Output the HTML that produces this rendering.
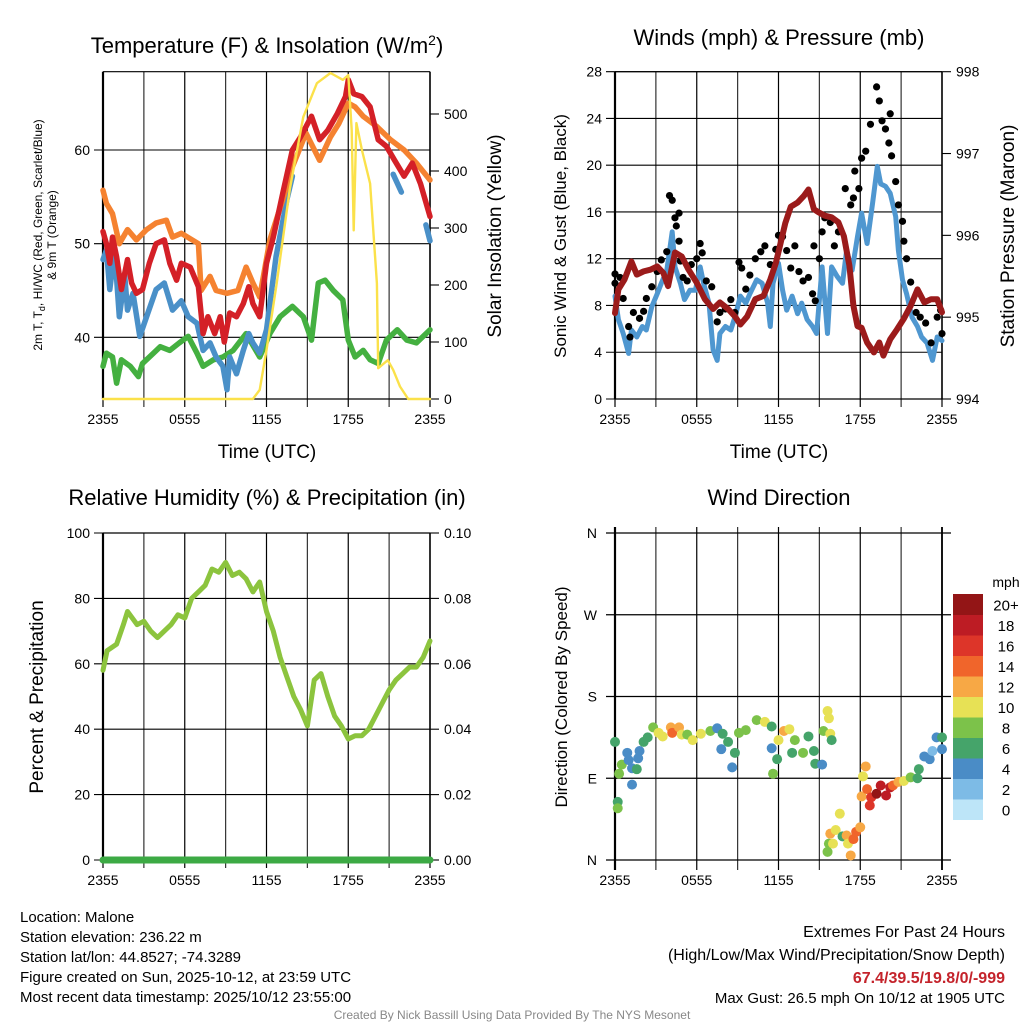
<!DOCTYPE html>
<html><head><meta charset="utf-8">
<style>
html,body{margin:0;padding:0;background:#fff;}
svg{display:block;font-family:"Liberation Sans",Arial,sans-serif;}
</style></head>
<body>
<svg id="c" width="1024" height="1024" viewBox="0 0 1024 1024" xmlns="http://www.w3.org/2000/svg"></svg>
<script>
// ---------- DATA ----------
const xTickLabels = ["2355","0555","1155","1755","2355"];
// Temperature panel
const redH = [0,.25,.5,.7,1,1.35,1.8,2.1,2.45,2.9,3.4,3.9,4.5,4.9,5.4,5.75,6.4,7,7.35,7.7,8.2,8.6,8.9,9.3,9.8,10.3,10.7,11,11.5,12,12.5,13.2,13.9,14.5,15.3,15.9,16.5,17.2,17.8,18,18.4,19,19.6,20.2,20.8,21.4,22.1,22.7,23.3,24];
const redT = [51.3,50,47.9,50.7,48.6,45.1,48.3,45.8,44.7,45.1,47.9,50,50.4,47.9,46.1,47.9,47.5,45.4,40.4,42.2,40.4,42.2,39.5,42.6,42.2,43.6,45.4,43.6,42.2,47.9,50.7,55.4,60,61.4,63.6,61.1,62.1,63.9,65.7,67.5,66,65.7,64.6,61.1,60.4,58.9,57.2,58.6,56.4,52.9];
const orangeH = [0,.25,.7,1.2,1.8,2.45,3.2,3.9,4.65,5.1,5.75,7,7.2,7.85,8.3,9.1,9.9,10.5,11,11.5,12.25,13.2,13.9,14.9,15.9,16.7,17.3,18,18.5,19.1,20.1,21.1,22.1,23,24];
const orangeT = [55.7,54.3,53.2,50,51.5,50.4,51.5,52.2,52.5,50.7,51.1,50,45,46.5,45,44.7,45,47.5,45.8,44.3,50.4,54.7,58.2,61.8,58.9,61.4,62.8,65,64.6,63.6,62.5,61.1,60,58.6,56.8];
const blueH = [0,.25,.5,.85,1.2,1.6,1.8,2.2,2.7,3.2,3.9,4.5,5.1,5.75,6.25,6.9,7.35,7.85,8.3,8.8,9.1,9.3,9.8,10.3,10.7,11,11.5,12,12.7,13.5,13.9,null,21.3,21.9,null,23.7,24];
const blueT = [48.3,49.3,45.1,49.3,42.2,46.5,42.9,44.7,40.1,42.2,45.1,45.8,42.9,43.9,42.2,41.5,38.6,39.4,37.9,36.9,34.4,37.9,36.1,38.6,40.4,39.4,38.3,40.8,48.6,54.7,57.2,null,57.4,55.5,null,52,50.3];
const greenH = [0,.25,.7,1,1.35,2,2.6,2.9,3.7,4.2,4.9,5.6,6.25,6.9,7.35,8.1,8.8,9.55,10.5,11.5,12.25,13,13.9,14.7,15.3,15.8,16.3,16.9,17.6,18,18.5,19.1,19.6,20.2,20.8,21.6,22.3,23,24];
const greenT = [36.9,38.3,37.9,35.1,37.6,36.9,35.8,37.2,38.3,39,38.6,39.4,40.1,38.3,36.9,37.6,37.9,38.6,40.4,37.9,40.4,42.2,43.3,42.2,39.7,45.8,46.1,45,44,39.7,37.9,38.6,37.6,37.2,39.7,40.8,39.7,39.4,40.8];
const solarH = [0,11,11.5,12,12.75,13.7,14.7,15.7,16.7,17.6,18,18.25,18.4,18.6,19,19.6,20.1,20.2,20.9,21.3,21.8,22.4,24];
const solarW = [0,0,16,86,203,367,495,554,572,560,568,472,296,484,437,378,203,54,68,51,22,0,0];
const tempTicks = [40,50,60];
const solarTicks = [0,100,200,300,400,500];
// Winds panel
const windH = [0,.25,.6,1,1.2,1.6,2,2.3,2.7,3.1,3.4,3.8,4.2,4.4,4.8,5.1,5.5,5.9,6.25,6.5,6.9,7.2,7.5,7.7,8.1,8.5,8.8,9.2,9.6,9.9,10.4,10.8,11.2,11.4,11.6,12,12.3,12.6,13,13.4,13.7,14.1,14.5,14.8,15.2,15.6,15.9,16.3,16.7,17,17.4,17.8,18.1,18.5,18.9,19.25,19.5,19.85,20.2,20.6,20.8,21.1,21.4,21.8,22.2,22.5,22.9,23.3,23.65,24];
const windV = [8.8,6.8,5.6,3.9,5.9,5.3,6.2,5.9,7.9,9,9.9,11,14.3,11.3,9.9,8.5,9.3,9.3,11.3,9.9,8.2,4.2,3.3,5.6,6.2,5.9,7,8.8,8.2,9,10.2,9.9,8.2,6.2,9.9,11.6,9.3,7.6,8.8,7.3,8.2,6.8,6.2,5.6,11.3,5.6,11.3,10.5,9.9,12.7,11,13.9,15.9,13.3,16.7,19.9,18.4,18.2,17.6,15.6,12.7,10.2,9,7,6.2,5.3,4.8,3.3,5.3,5];
const gustH = [0,0,.37,.6,1,1.1,1.35,1.8,2.1,2.3,2.7,3.1,3.4,3.8,4,4.2,4.4,4.7,4.5,4.7,4.8,5,5.3,5.6,6,6.25,6.4,6.7,7.1,7.5,7.7,8.1,8.5,8.8,9.1,9.3,9.6,9.9,10.3,10.7,11,11.4,11.8,12,12.3,12.6,12.9,13.2,13.5,13.8,14.2,14.5,14.6,14.7,15,15.2,15.4,15.8,16.1,16.4,16.9,17.3,17.5,17.6,17.9,18.1,18.4,18.75,19.2,19.4,19.6,19.85,20.2,20.1,20.3,20.6,20.8,21.1,21.2,21.4,21.7,22.1,22.4,22.8,23.2,23.65,23.9,24];
const gustV = [9.9,10.7,10.4,8.6,6.2,5.3,7.4,6.9,7.5,8.6,9.6,10.9,11.9,12.6,17.4,17,15.5,15.9,14.8,13.5,11.8,10.4,10.1,11.5,12,13.3,12.5,10.1,9.6,6.6,7.4,7.7,8.5,7.4,11.7,11.2,9.4,10.6,12,12.6,13.1,11.5,12.8,14,13.9,12.7,11.2,13.1,10.9,10.1,10.4,9,13.1,8.4,12,14.3,15.5,15.1,13.1,14.3,18,16.6,17.2,19.5,18,20.6,21.2,23.5,26.7,25.5,23.8,23.1,24.4,21.9,20.8,18.6,16.6,15.2,13.5,12,10,7.4,7,6.5,4.8,7,7.6,5.6];
const presH = [0,.25,.7,1.2,1.6,2.1,2.6,3.1,3.55,3.9,4.4,4.9,5.4,6,6.6,7.2,7.7,8.3,8.8,9.2,9.7,10.3,10.9,11.4,11.8,12.1,12.5,12.9,13.4,13.85,14.2,14.6,14.95,15.4,15.9,16.4,16.8,17.2,17.5,17.8,18.1,18.5,19,19.4,19.7,20.2,20.7,21.2,21.7,22.2,22.7,23.2,23.65,24];
const presV = [995.05,995.34,995.46,995.68,995.52,995.56,995.58,995.62,995.54,995.38,995.79,995.74,995.58,995.42,995.22,995.1,995.18,995.1,995.01,994.91,995.01,995.22,995.26,995.46,995.66,995.87,996.15,996.35,996.4,996.48,996.56,996.32,996.28,996.24,996.22,996.16,995.99,995.63,995.14,994.89,994.87,994.69,994.57,994.69,994.53,994.73,994.85,994.98,995.14,995.34,995.18,995.22,995.22,995.06];
const windTicks = [0,4,8,12,16,20,24,28];
const presTicks = [994,995,996,997,998];
// RH panel
const rhH = [0,.3,1,1.5,1.8,2.5,3,3.5,4,4.5,5,5.5,6,6.5,7,7.5,8,8.5,9,9.5,10,10.5,11,11.5,12,12.5,13,13.5,14,14.5,15,15.5,16,16.5,17,17.5,18,18.5,19,19.5,20,20.5,21,21.5,22,22.5,23,23.5,24];
const rhV = [58,64,66,72,76,72,73,70,68,70,72,75,74,80,82,84,89,88,91,87,88,86,82,85,76,70,62,56,50,46,41,55,57,50,44,41,37,38,38,40,44,48,52,55,57,59,59,62,67];
const precipH = [0,24];
const precipV = [0,0];
const rhTicks = [0,20,40,60,80,100];
const precipTicks = ["0.00","0.02","0.04","0.06","0.08","0.10"];
// Wind direction panel
const dirH = [0,.2,.2,.3,.5,.9,1,1.25,1.25,1.6,1.7,1.8,2.1,2.4,2.8,3.2,3.5,4.1,4.2,4.7,4.9,5.3,5.7,6.3,7,7.5,7.9,7.8,8.3,8.6,8.8,9.1,9.6,10.4,11,11.5,11.5,11.6,11.9,12,12.4,12.8,13,13.2,13.8,14.2,14.6,14.7,15.2,15.3,15.6,15.7,15.8,15.9,15.6,15.7,15.8,16,16.2,16.5,16.7,17,17.1,17.3,17.5,17.7,18,18.2,18.4,18.1,18.5,18.7,18.8,19.2,19.5,19.9,20.2,20.4,20.8,21.2,21.7,22.2,22.3,22.7,23.1,23.3,23.6,24,24];
const dirV = [130,64,57,95,105,118,110,101,83,100,112,120,130,135,146,140,136,146,140,146,138,138,132,139,142,145,139,122,130,102,118,140,143,154,152,147,123,95,111,132,142,144,118,132,118,136,120,106,105,142,164,156,139,132,9,18,29,18,33,51,26,27,18,5,23,31,36,92,103,70,78,60,69,73,82,71,80,82,86,87,91,90,100,114,111,120,135,135,122];
const dirS = [7,7,9,9,9,5,5,5,5,7,5,5,7,7,9,11,11,13,15,13,11,9,11,11,9,5,7,5,7,5,7,9,9,9,11,7,5,9,7,11,13,11,7,9,9,7,7,7,5,9,11,11,11,7,9,9,13,11,11,11,7,13,11,13,15,15,13,11,13,13,15,17,17,21,19,19,19,15,13,11,9,7,7,5,5,3,5,7,5];
const dirLabels = ["N","E","S","W","N"];
const cbLabels = ["0","2","4","6","8","10","12","14","16","18","20+"];
const cbColors = ["#bde5f8","#7dbbe6","#4a8cc6","#45a46a","#7cc24a","#e7e155","#f7a845","#f0652b","#dd3529","#bd1c24","#931516"];

// ---------- DRAW ----------
const svg = document.getElementById('c');
const NS = "http://www.w3.org/2000/svg";
function el(tag, attrs, parent){const e=document.createElementNS(NS,tag);for(const k in attrs)e.setAttribute(k,attrs[k]);(parent||svg).appendChild(e);return e;}
function txt(s,x,y,size,anchor,parent,extra){const t=el('text',Object.assign({x:x,y:y,'font-size':size,'text-anchor':anchor||'middle',fill:'#000'},extra||{}),parent);t.textContent=s;return t;}

function lin(d0,d1,r0,r1){return v=>r0+(v-d0)/(d1-d0)*(r1-r0);}

function frame(g,x0,x1,y0,y1,sx,leftTicks,ly,leftLab,rightTicks,ry,rightLab,boxTop){
  for(let h=0;h<=24;h+=3){
    const l=el('line',{x1:sx(h),x2:sx(h),y1:y0,y2:y1+8,stroke:(h%6==0)?'#000':'#333','stroke-width':1.2},g);
    
    
  }
  xTickLabels.forEach((s,i)=>{const t=txt(s,sx(i*6),y1+25,14,'middle',g);});
  leftTicks.forEach((v,i)=>{const y=ly(v);
    const l=el('line',{x1:x0-9,x2:x1,y1:y,y2:y,stroke:'#000','stroke-width':1.1},g);
    
    
    const t=txt(leftLab?leftLab[i]:String(v),x0-13,y+5,14,'end',g);
    
    
  });
  rightTicks.forEach((v,i)=>{const y=ry(v);
    el('line',{x1:x1,x2:x1+9,y1:y,y2:y,stroke:'#000','stroke-width':1.1},g);
    const t=txt(rightLab?rightLab[i]:String(v),x1+14,y+5,14,'start',g);
    
    
  });
  el('line',{x1:x0,x2:x1,y1:y1,y2:y1,stroke:'#000','stroke-width':1.2},g);
  if(boxTop) el('line',{x1:x0,x2:x1,y1:y0,y2:y0,stroke:'#000','stroke-width':1.2},g);
  el('line',{x1:x0,x2:x0,y1:y0,y2:y1,stroke:'#000','stroke-width':2.2},g);
  el('line',{x1:x1,x2:x1,y1:y0,y2:y1,stroke:'#000','stroke-width':1.5},g);
}
function path(g,H,V,sx,sy,color,w,name){
  let d='',pen=false;
  for(let i=0;i<H.length;i++){
    if(H[i]===null||V[i]===null){pen=false;continue;}
    d+=(pen?'L':'M')+sx(H[i]).toFixed(1)+','+sy(V[i]).toFixed(1);pen=true;
  }
  const p=el('path',{d:d,fill:'none',stroke:color,'stroke-width':w,'stroke-linejoin':'round','stroke-linecap':'round'},g);
  
  
  return p;
}
function rotLabel(g,s,x,y,size,angle){const t=el('text',{x:0,y:0,'font-size':size,'text-anchor':'middle',fill:'#000',transform:`translate(${x},${y}) rotate(${angle})`},g);t.textContent=s;return t;}

// Panel 1: temperature
{
  const g=el('g',{});
  
  
  const x0=103,x1=430,y0=71.7,y1=399;
  const sx=lin(0,24,x0,x1), sy=lin(40,60,337.3,150), sw=lin(0,500,399,114);
  frame(g,x0,x1,y0,y1,sx,tempTicks,sy,null,solarTicks,sw,null,true);
  path(g,greenH,greenT,sx,sy,'#44b040',5.5,'dewpoint-line');
  path(g,blueH,blueT,sx,sy,'#4a90c8',5.5,'heat-index-wind-chill-line');
  path(g,orangeH,orangeT,sx,sy,'#f58230',5.5,'9m-temperature-line');
  path(g,redH,redT,sx,sy,'#d42027',5.5,'2m-temperature-line');
  path(g,solarH,solarW,sx,sw,'#fbe14a',2.4,'solar-insolation-line');
  const t=txt('',267,53,22,'middle',g);t.innerHTML='Temperature (F) &amp; Insolation (W/m<tspan dy="-8" font-size="14">2</tspan><tspan dy="8">)</tspan>';
  
  const xl=txt('Time (UTC)',267,458,19,'middle',g);
  const a=el('text',{x:0,y:0,'font-size':12,'text-anchor':'middle',transform:'translate(42,235) rotate(-90)'},g);
  a.innerHTML='2m T, T<tspan dy="3" font-size="9">d</tspan><tspan dy="-3">, HI/WC (Red, Green, Scarlet/Blue)</tspan>';
  
  const a2=rotLabel(g,'& 9m T (Orange)',56,235,12,-90);
  const r=rotLabel(g,'Solar Insolation (Yellow)',501,236,19,-90);
}
// Panel 2: winds
{
  const g=el('g',{});
  
  
  const x0=615,x1=942,y0=71.7,y1=399;
  const sx=lin(0,24,x0,x1), sy=lin(0,28,399,71.7), sp=lin(994,998,399,71.7);
  frame(g,x0,x1,y0,y1,sx,windTicks,sy,null,presTicks,sp,null,true);
  path(g,windH,windV,sx,sy,'#4f97d0',5,'sonic-wind-line');
  gustH.forEach((h,i)=>{const c=el('circle',{cx:sx(h),cy:sy(gustV[i]),r:3.6,fill:'#000'},g);
    
    });
  path(g,presH,presV,sx,sp,'#9b1b1b',6,'pressure-line');
  const t=txt('Winds (mph) & Pressure (mb)',779,45,22,'middle',g);
  const xl=txt('Time (UTC)',779,458,19,'middle',g);
  const a=rotLabel(g,'Sonic Wind & Gust (Blue, Black)',566,236,17,-90);
  const r=rotLabel(g,'Station Pressure (Maroon)',1014,236,19,-90);
}
// Panel 3: RH
{
  const g=el('g',{});
  
  
  const x0=103,x1=430,y0=533,y1=860;
  const sx=lin(0,24,x0,x1), sy=lin(0,100,860,533), spr=lin(0,0.1,860,533);
  const pv=precipTicks.map(Number);
  frame(g,x0,x1,y0,y1,sx,rhTicks,sy,null,pv,spr,precipTicks,true);
  path(g,rhH,rhV,sx,sy,'#8cc43e',5,'relative-humidity-line');
  path(g,precipH,precipV,sx,spr,'#3caa44',7,'precipitation-line');
  const t=txt('Relative Humidity (%) & Precipitation (in)',267,505,22,'middle',g);
  const a=rotLabel(g,'Percent & Precipitation',43,697,19,-90);
}
// Panel 4: wind direction
{
  const g=el('g',{});
  
  
  const x0=615,x1=942,y0=533,y1=860;
  const sx=lin(0,24,x0,x1), sy=lin(0,360,860,533);
  const dt=[0,90,180,270,360];
  for(let h=0;h<=24;h+=3){el('line',{x1:sx(h),x2:sx(h),y1:y0-6,y2:y1+10,stroke:(h%6==0)?'#000':'#333','stroke-width':1.2},g);}
  xTickLabels.forEach((s,i)=>{const t=txt(s,sx(i*6),y1+25,14,'middle',g);});
  dt.forEach((v,i)=>{const y=sy(v);el('line',{x1:x0-9,x2:x1+9,y1:y,y2:y,stroke:'#000','stroke-width':1.2},g);
    const t=txt(dirLabels[i],x0-18,y+5,14,'end',g);});
  el('line',{x1:x0,x2:x0,y1:y0-6,y2:y1+10,stroke:'#000','stroke-width':2.2},g);
  el('line',{x1:x1,x2:x1,y1:y0-6,y2:y1+10,stroke:'#000','stroke-width':1.8},g);
  function col(s){let i=Math.floor(s/2);if(i>10)i=10;if(i<0)i=0;return cbColors[i];}
  dirH.forEach((h,i)=>{const c=el('circle',{cx:sx(h),cy:sy(dirV[i]),r:5,fill:col(dirS[i])},g);
    
    });
  const t=txt('Wind Direction',779,505,22,'middle',g);
  const a=rotLabel(g,'Direction (Colored By Speed)',567,697,17,-90);
  const cb=el('g',{},g);
  
  
  const bx=953,bw=30,bTop=594,bh=20.5;
  cbColors.forEach((c,i)=>{const y=bTop+(10-i)*bh;el('rect',{x:bx,y:y,width:bw,height:bh+0.5,fill:c},cb);
    const l=txt(cbLabels[i],1006,y+bh/2+6,15,'middle',cb);});
  const u=txt('mph',1006,587,14,'middle',cb);
}
// Footer
{
  const g=el('g',{});
  
  
  const L=["Location: Malone","Station elevation: 236.22 m","Station lat/lon: 44.8527; -74.3289","Figure created on Sun, 2025-10-12, at 23:59 UTC","Most recent data timestamp: 2025/10/12 23:55:00"];
  L.forEach((s,i)=>{const t=txt(s,20,922+i*20,15,'start',g);});
  const a=txt('Extremes For Past 24 Hours',1005,937,16,'end',g);
  const b=txt('(High/Low/Max Wind/Precipitation/Snow Depth)',1005,960,16,'end',g);
  const c=txt('67.4/39.5/19.8/0/-999',1005,983,16,'end',g,{fill:'#c4232b','font-weight':'bold'});
  const d=txt('Max Gust: 26.5 mph On 10/12 at 1905 UTC',1005,1003,15,'end',g);
  const e=txt('Created By Nick Bassill Using Data Provided By The NYS Mesonet',512,1019,12,'middle',g,{fill:'#888'});
}
</script>
</body></html>
